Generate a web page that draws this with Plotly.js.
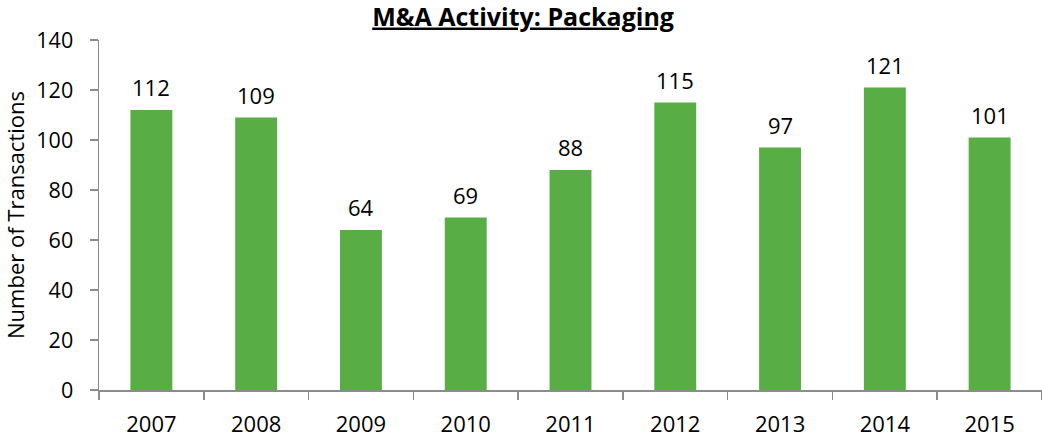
<!DOCTYPE html>
<html>
<head>
<meta charset="utf-8">
<script src="https://cdn.plot.ly/plotly-3.0.1.min.js"></script>
<style>html,body{margin:0;padding:0;background:#fff;}#chart{width:1042px;height:441px;}</style>
</head>
<body>
<div id="chart"></div>
<script>
const years = ['2007','2008','2009','2010','2011','2012','2013','2014','2015'];
const transactions = [112, 109, 64, 69, 88, 115, 97, 121, 101];
const yTicks = [0, 20, 40, 60, 80, 100, 120, 140];

const FONT = 'Open Sans, Noto Sans, sans-serif';
const trace = {
  type: 'bar',
  x: years,
  y: transactions,
  width: 0.4,
  marker: {color: '#58AD44'},
  hoverinfo: 'x+y'
};

const annotations = years.map((yr, i) => ({
  x: i, y: transactions[i], xref: 'x', yref: 'y',
  text: String(transactions[i]), showarrow: false,
  yanchor: 'bottom', yshift: 6,
  font: {family: FONT, size: 22, color: '#000'}
}));

const layout = {
  width: 1042, height: 441,
  margin: {l: 99, r: 0, t: 40, b: 51},
  paper_bgcolor: '#fff', plot_bgcolor: '#fff',
  showlegend: false,
  title: {
    text: '<b><u>M&A Activity: Packaging</u></b>',
    x: 0.502, xanchor: 'center', y: 0.962, yanchor: 'middle',
    font: {family: FONT, size: 25, color: '#000'}
  },
  xaxis: {
    type: 'category', range: [-0.5, 8.5],
    showline: true, linecolor: '#8c8c8c', linewidth: 1.5,
    ticks: 'outside', tickson: 'boundaries', ticklen: 8, tickcolor: '#8c8c8c', tickwidth: 1.5,
    ticklabelstandoff: 14,
    showgrid: false, zeroline: false,
    tickfont: {family: FONT, size: 22, color: '#000'}
  },
  yaxis: {
    range: [0, 140], tickvals: yTicks,
    showline: true, linecolor: '#8c8c8c', linewidth: 1.5,
    ticks: 'outside', ticklen: 8, tickcolor: '#8c8c8c', tickwidth: 1.5,
    ticklabelstandoff: 12,
    showgrid: false, zeroline: false,
    tickfont: {family: FONT, size: 21.5, color: '#000'},
    title: {text: 'Number of Transactions', standoff: 9, font: {family: FONT, size: 22, color: '#000'}}
  },
  annotations: annotations
};

Plotly.newPlot('chart', [trace], layout, {displayModeBar: false, staticPlot: true});
</script>
</body>
</html>
